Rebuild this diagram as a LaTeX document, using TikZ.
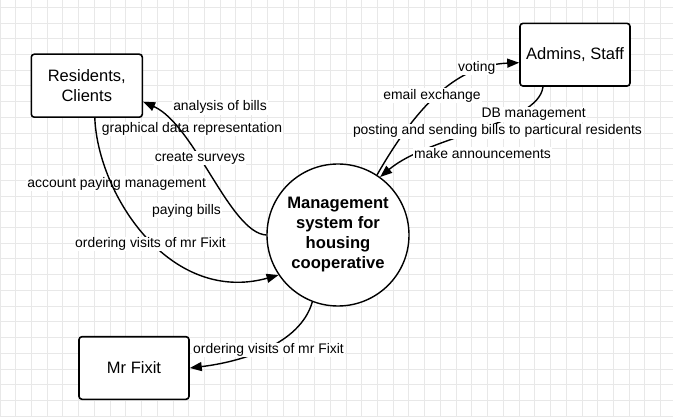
\documentclass[tikz,border=0pt]{standalone}
\usepackage{fontspec}
\setmainfont{Liberation Sans}
\usetikzlibrary{arrows.meta}
\begin{document}
\begin{tikzpicture}[x=1pt,y=-1pt,
  entity/.style={draw, line width=1.6pt, rounded corners=3pt, minimum width=111pt, minimum height=63pt, align=center, inner sep=0pt, font=\fontsize{16.5}{20}\selectfont, fill=white},
  proc/.style={draw, circle, line width=1.4pt, minimum size=142pt, inner sep=0pt, align=center, font=\fontsize{16.6}{20}\selectfont\bfseries, fill=white},
  lbl/.style={fill=white, inner sep=1pt, font=\fontsize{13.9}{16}\selectfont},
  flow/.style={line width=1.4pt, -{Triangle[length=12pt,width=9pt]}},
  gridline/.style={black!9}]
\useasboundingbox (0,0) rectangle (673,417);
\fill[white] (0,0) rectangle (673,417);
% grid (thin filled strips)
\foreach \k in {0,...,42}{\pgfmathsetmacro\xx{15.73*\k}\fill[gridline] (\xx-0.5,0) rectangle (\xx+0.5,417);}
\foreach \k in {0,...,26}{\pgfmathsetmacro\yy{7.3+15.73*\k}\fill[gridline] (0,\yy-0.5) rectangle (673,\yy+0.5);}

% nodes
\node[entity] (res) at (86.8,85.7) {Residents,\\Clients};
\node[entity, minimum width=110pt, minimum height=62.7pt] (adm) at (575,54.7) {Admins, Staff};
\node[entity, minimum width=110pt, minimum height=62.6pt] (fix) at (134,368) {Mr Fixit};
\node[proc] (sys) at (338,235) {Management\\system for\\housing\\cooperative};

% labels lying under other lines
\node[lbl] (l2) at (192,129) {graphical data representation};
\node[lbl] (l4) at (116.7,183.5) {account paying management};

% connectors
\draw[flow] (sys.west) .. controls (230,233) and (195,125) .. ([yshift=-16pt]res.east);
\draw[flow] ([xshift=8pt]res.south) .. controls (98,195) and (170,305) .. (sys.214);
\draw[flow] (sys.57) .. controls (420,100) and (460,65) .. ([yshift=-8pt]adm.west);
\draw[flow] ([xshift=-32pt]adm.south) .. controls (538,125) and (430,135) .. (sys.54);
\draw[flow] (sys.249) .. controls (300,345) and (240,362) .. (fix.east);

% labels on top
\node[lbl] (l1) at (220,107.3) {analysis of bills};
\node[lbl] (l3) at (200,158.3) {create surveys};
\node[lbl] (l5) at (186.5,210.7) {paying bills};
\node[lbl] (l6) at (150.5,244) {ordering visits of mr Fixit};
\node[lbl] (l7) at (476.7,67.7) {voting};
\node[lbl] (l8) at (432,95.7) {email exchange};
\node[lbl] (l9) at (533.7,114.3) {DB management};
\node[lbl] (l10) at (497.5,131.3) {posting and sending bills to particural residents};
\node[lbl] (l11) at (482.5,153.3) {make announcements};
\node[lbl] (l12) at (268.5,350) {ordering visits of mr Fixit};
\end{tikzpicture}
\end{document}
